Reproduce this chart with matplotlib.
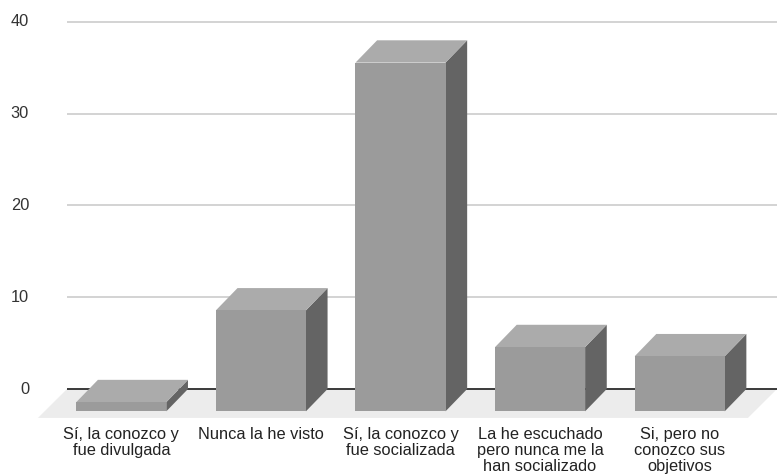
import numpy as np
import matplotlib.pyplot as plt
from matplotlib.patches import Polygon

categories = [
    "Sí, la conozco y\nfue divulgada",
    "Nunca la he visto",
    "Sí, la conozco y\nfue socializada",
    "La he escuchado\npero nunca me la\nhan socializado",
    "Si, pero no\nconozco sus\nobjetivos",
]
counts = [1, 11, 38, 7, 6]
y_ticks = [0, 10, 20, 30, 40]

plt.rcParams['font.family'] = ['Liberation Sans', 'DejaVu Sans']

# oblique 3d look: offsets of the back plane from the front faces
ox, oy = 0.155, 2.43          # bar depth (category units, value units)
fx, fy = 0.208, 3.15          # floor depth
hw = 0.3225                   # half bar width
x_left, x_right = -0.869, 4.697
grid_start = -0.389

front = '#9b9b9b'
top = '#ababab'
side = '#646464'

fig = plt.figure(figsize=(7.77, 4.74), dpi=100)
ax = fig.add_axes([0, 39.1 / 474, 1, (470.4 - 39.1) / 474])
ax.set_xlim(x_left, x_right)
ax.set_ylim(-5, 42)
ax.axis('off')

# floor
floor = Polygon([(grid_start, 0), (x_right, 0),
                 (x_right - fx, -fy), (grid_start - fx, -fy)],
                closed=True, facecolor='#ececec', edgecolor='none', zorder=1)
ax.add_patch(floor)

# gridlines on the back wall
for t in y_ticks[1:]:
    ax.hlines(t, grid_start, x_right, color='#cccccc', lw=1.2, zorder=0)
ax.hlines(0, grid_start, x_right, color='#3a3a3a', lw=1.4, zorder=2)

for t in y_ticks:
    ax.text(-0.661, t, str(t), ha='right', va='center', fontsize=11.8,
            color='#333333')

x = np.arange(len(counts))
for xi, v in zip(x, counts):
    side_face = Polygon([(xi + hw, -oy), (xi + hw + ox, 0),
                         (xi + hw + ox, v), (xi + hw, v - oy)],
                        closed=True, facecolor=side, edgecolor='none', zorder=3)
    top_face = Polygon([(xi - hw, v - oy), (xi - hw + ox, v),
                        (xi + hw + ox, v), (xi + hw, v - oy)],
                       closed=True, facecolor=top, edgecolor='none', zorder=3)
    ax.add_patch(side_face)
    ax.add_patch(top_face)
ax.bar(x, counts, width=2 * hw, bottom=-oy, color=front, zorder=4)

for xi, label in zip(x, categories):
    ax.text(xi, -4.1, label, ha='center', va='top', fontsize=11.8,
            color='#222222', linespacing=1.1, clip_on=False)

fig.savefig('out.png', dpi=100)
